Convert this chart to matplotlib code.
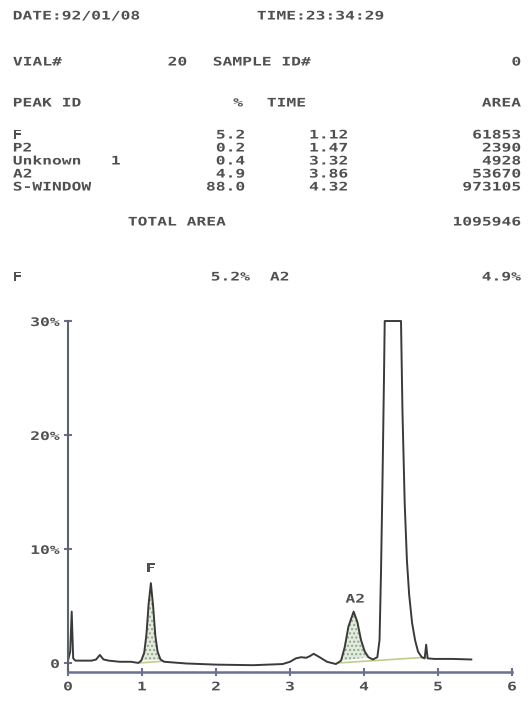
import matplotlib
matplotlib.use('Agg')
import matplotlib.pyplot as plt
from matplotlib.patheffects import AbstractPathEffect
from matplotlib.transforms import Affine2D

# printout header / report table
date_str = 'DATE:92/01/08'
time_str = 'TIME:23:34:29'
vial_no = '20'
sample_id = '0'

peak_ids = ['F', 'P2', 'Unknown   1', 'A2', 'S-WINDOW']
peak_pct = ['5.2', '0.2', '0.4', '4.9', '88.0']
peak_time = ['1.12', '1.47', '3.32', '3.86', '4.32']
peak_area = ['61853', '2390', '4928', '53670', '973105']
total_area = '1095946'
summary_ids = ['F', 'A2']
summary_pct = ['5.2%', '4.9%']

# chromatogram trace (time min, signal %)
trace_t = [0.00, 0.03, 0.05, 0.07, 0.10, 0.20, 0.32, 0.38, 0.43, 0.48, 0.55,
           0.70, 0.85, 0.95, 0.99, 1.03, 1.06, 1.09, 1.12, 1.15, 1.18, 1.21,
           1.25, 1.30, 1.60, 2.00, 2.50, 2.90, 3.00, 3.08, 3.15, 3.22, 3.27,
           3.32, 3.40, 3.50, 3.62, 3.69, 3.74, 3.79, 3.86, 3.91, 3.96, 4.01,
           4.06, 4.12, 4.18, 4.21, 4.23, 4.25, 4.27, 4.28, 4.50, 4.52, 4.55,
           4.58, 4.61, 4.65, 4.69, 4.73, 4.78, 4.82, 4.84, 4.86, 4.95, 5.20,
           5.45]
trace_y = [0.2, 1.0, 4.5, 0.4, 0.2, 0.2, 0.2, 0.3, 0.7, 0.3, 0.2,
           0.1, 0.1, 0.0, 0.2, 0.9, 2.5, 5.2, 7.0, 5.0, 2.4, 1.0,
           0.3, 0.1, -0.05, -0.15, -0.2, -0.1, 0.1, 0.4, 0.5, 0.45, 0.6,
           0.8, 0.5, 0.1, -0.1, 0.2, 1.4, 3.2, 4.5, 3.6, 2.0, 1.0,
           0.5, 0.3, 0.5, 2.0, 8.0, 16.0, 25.0, 30.0, 30.0, 22.0, 14.0,
           9.0, 6.0, 3.5, 2.0, 1.0, 0.5, 0.4, 1.6, 0.4, 0.35, 0.35,
           0.3]

# integration baselines drawn by the integrator
base_t = [[0.97, 1.28], [3.66, 4.85]]
base_y = [[0.0, 0.15], [0.0, 0.5]]
shade_ranges = [(0.97, 1.28), (3.66, 4.08)]
label_text = ['F', 'A2']
label_pos = [(1.12, 8.3), (3.88, 5.6)]


class Stretch(AbstractPathEffect):
    """widen glyphs horizontally, like the dot matrix printer"""
    def __init__(self, sx=1.4, pivot='left'):
        super().__init__()
        self.sx = sx
        self.pivot = pivot

    def draw_path(self, renderer, gc, tpath, affine, rgbFace=None):
        bb = tpath.get_extents(affine)
        px = {'left': bb.x0, 'right': bb.x1, 'center': 0.5 * (bb.x0 + bb.x1)}[self.pivot]
        t = affine + Affine2D().translate(-px, 0).scale(self.sx, 1).translate(px, 0)
        renderer.draw_path(gc, tpath, t, rgbFace)


W, H = 528, 715
FONT = 'DejaVu Sans Mono'
INK = '#505050'
SX = 1.38

fig = plt.figure(figsize=(W / 100, H / 100), dpi=100)


def ptext(x, y, s, ha='left', size=8.5):
    fig.text(x / W, 1 - y / H, s, ha=ha, va='center', family=FONT, size=size,
             weight='bold', color=INK, path_effects=[Stretch(SX, ha)])


# header block
ptext(13, 16, date_str)
ptext(257, 16, time_str)
ptext(13, 62, 'VIAL#')
ptext(187, 62, vial_no, ha='right')
ptext(213, 62, 'SAMPLE ID#')
ptext(521, 62, sample_id, ha='right')
ptext(13, 103, 'PEAK ID')
ptext(243, 103, '%', ha='right')
ptext(267, 103, 'TIME')
ptext(521, 103, 'AREA', ha='right')
for i in range(len(peak_ids)):
    yy = 135 + i * 13
    ptext(13, yy, peak_ids[i])
    ptext(245, yy, peak_pct[i], ha='right')
    ptext(348, yy, peak_time[i], ha='right')
    ptext(521, yy, peak_area[i], ha='right')
ptext(128, 222, 'TOTAL AREA')
ptext(521, 222, total_area, ha='right')
ptext(13, 277, summary_ids[0])
ptext(250, 277, summary_pct[0], ha='right')
ptext(270, 277, summary_ids[1])
ptext(521, 277, summary_pct[1], ha='right')

# chromatogram
ax = fig.add_axes([68 / W, 0.0601, 444 / W, 0.4989])
ax.set_xlim(0, 6)
ax.set_ylim(-0.8, 30.5)
ax.patch.set_alpha(0)

for a, b in shade_ranges:
    idx = [i for i, t in enumerate(trace_t) if a <= t <= b]
    xs = [trace_t[i] for i in idx]
    ys = [trace_y[i] for i in idx]
    ax.fill(xs, ys, facecolor='#e3ebdc', edgecolor='#8ea58c', hatch='....', lw=0)

for bt, by in zip(base_t, base_y):
    ax.plot(bt, by, color='#c2cc8c', lw=1.2)

ax.plot(trace_t, trace_y, color='#3a3a3a', lw=1.4)

for s, (x, y) in zip(label_text, label_pos):
    ax.text(x, y, s, ha='center', va='center', family=FONT, size=8.5,
            weight='bold', color=INK, path_effects=[Stretch(SX, 'center')])

for side in ['top', 'right']:
    ax.spines[side].set_visible(False)
ax.spines['left'].set_bounds(-0.8, 30)
ax.spines['left'].set_color('#5b6468')
ax.spines['bottom'].set_color('#6a7090')
ax.spines['left'].set_linewidth(1.5)
ax.spines['bottom'].set_linewidth(1.8)

ax.set_xticks(range(7))
ax.set_xticklabels([str(i) for i in range(7)])
ax.set_yticks([0, 10, 20, 30])
ax.set_yticklabels(['0', '10%', '20%', '30%'])
ax.tick_params(direction='inout', length=6, width=1.5, colors='#6a7090',
               labelcolor=INK, labelsize=8.5, pad=3)
for lab in ax.get_xticklabels():
    lab.set_family(FONT)
    lab.set_weight('bold')
    lab.set_path_effects([Stretch(SX, 'center')])
for lab in ax.get_yticklabels():
    lab.set_family(FONT)
    lab.set_weight('bold')
    lab.set_path_effects([Stretch(SX, 'right')])

fig.savefig('out.png', dpi=100, facecolor='white')
